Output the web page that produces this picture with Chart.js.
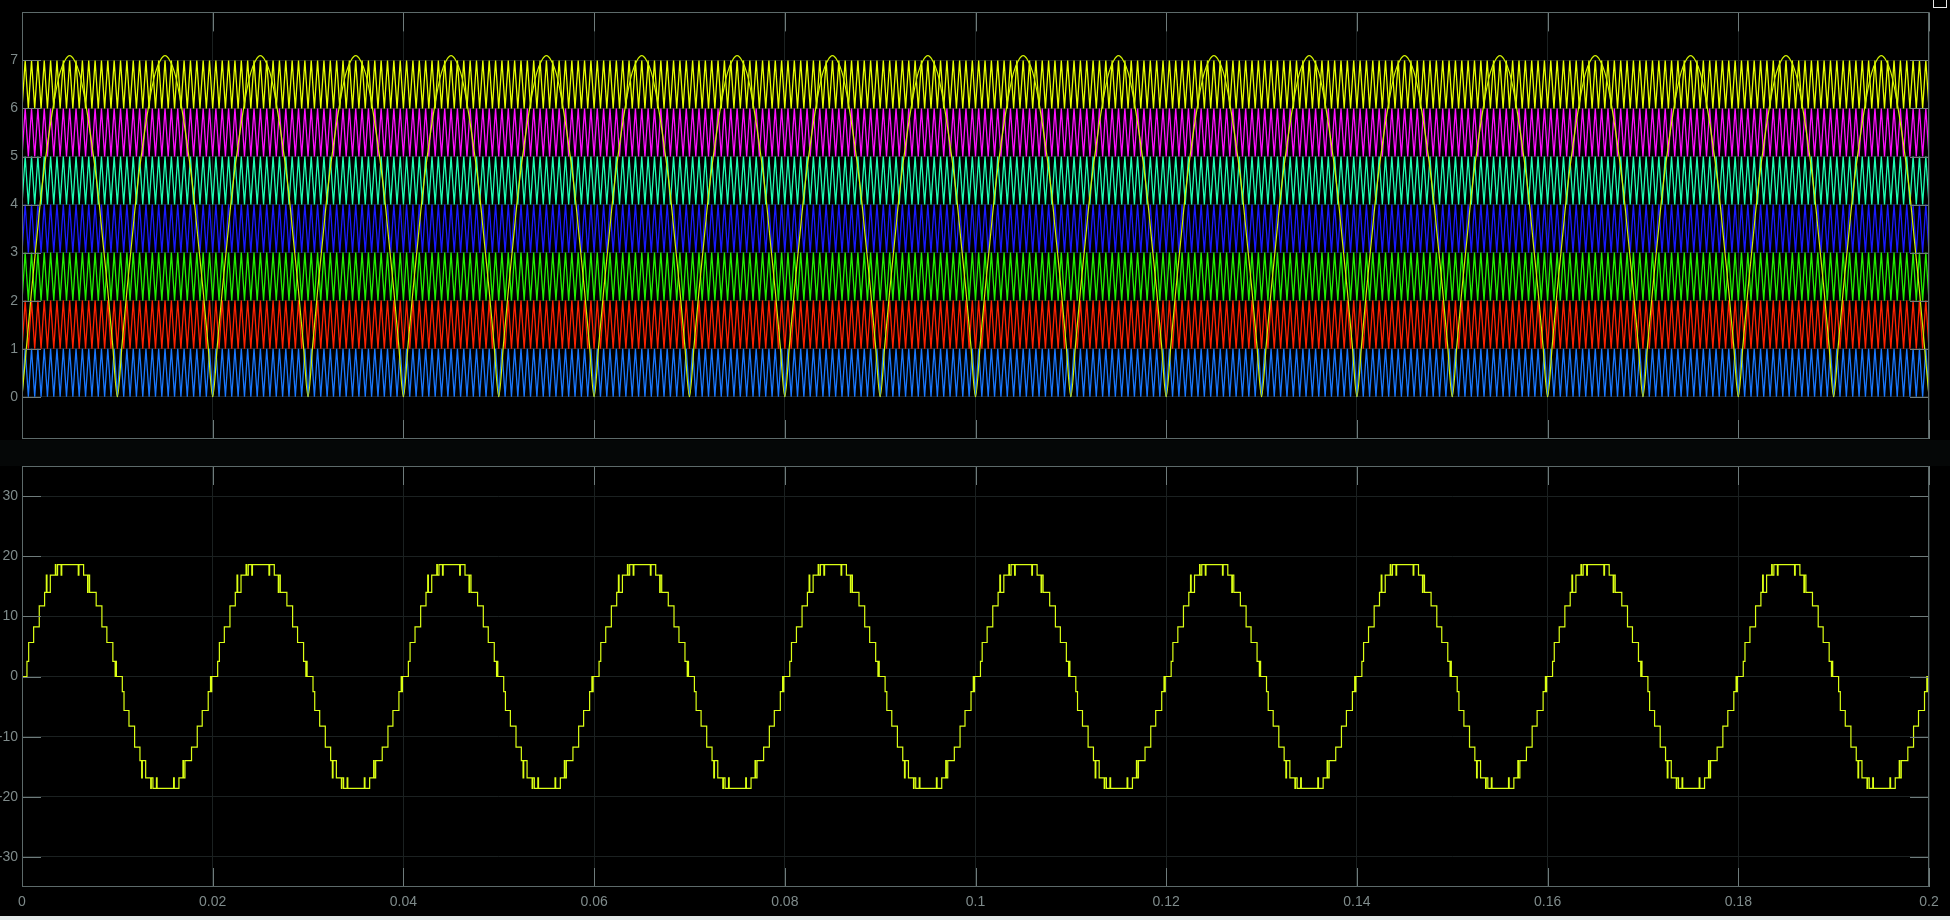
<!DOCTYPE html>
<html>
<head>
<meta charset="utf-8">
<title>Scope</title>
<script src="https://cdn.jsdelivr.net/npm/chart.js"></script>
<style>
  html, body { margin: 0; padding: 0; background: #000; overflow: hidden; }
  body { width: 1950px; height: 920px; position: relative; }
  canvas { position: absolute; left: 0; }
  #carriers { top: 0; }
  #output { top: 440px; }
  .gap { position: absolute; left: 0; top: 440px; width: 1950px; height: 26px; background: #050707; }
  .footer { position: absolute; left: 0; top: 916px; width: 1950px; height: 4px; background: #e4eaea; }
  .undock { position: absolute; left: 1933px; top: -2px; width: 12px; height: 8px; border: 1px solid #e8e8e8; }
</style>
</head>
<body>
<div class="gap"></div>
<canvas id="carriers" width="1950" height="460"></canvas>
<canvas id="output" width="1950" height="476"></canvas>
<div class="footer"></div>
<div class="undock"></div>
<script>
// time axis (s)
const duration = 0.2;
const xTicks = [0, 0.02, 0.04, 0.06, 0.08, 0.1, 0.12, 0.14, 0.16, 0.18, 0.2];
const xTickLabels = ["0", "0.02", "0.04", "0.06", "0.08", "0.1", "0.12", "0.14", "0.16", "0.18", "0.2"];

// top scope: level-shifted carriers + rectified reference
const carrierTicks = [0, 1, 2, 3, 4, 5, 6, 7];
const carrierBands = [[0, 1], [1, 2], [2, 3], [3, 4], [4, 5], [5, 6], [6, 7]];
const carrierColors = ["#1a78ff", "#ff2200", "#22f000", "#1a1aff", "#1effb4", "#ff10ff", "#e8ff00"];
const carrierHz = 1500; // about 6.3 px between spikes

// one half cycle of the reference (|sin|), 0 .. 0.01 s
const refPeriod = 0.01;
const refTimes = [0, 0.0005, 0.001, 0.0015, 0.002, 0.0025, 0.003, 0.0035, 0.004, 0.0045, 0.005,
  0.0055, 0.006, 0.0065, 0.007, 0.0075, 0.008, 0.0085, 0.009, 0.0095, 0.01];
const refValues = [0, 1.1, 2.2, 3.2, 4.2, 5.0, 5.7, 6.3, 6.75, 7.0, 7.1,
  7.0, 6.75, 6.3, 5.7, 5.0, 4.2, 3.2, 2.2, 1.1, 0];

// bottom scope: 15-level output, positive half cycle (negative half mirrors it)
const outputPeriod = 0.02;
const outputTicks = [-30, -20, -10, 0, 10, 20, 30];
const stepTimes = [0.00052, 0.0007, 0.00122, 0.00181, 0.00237, 0.00255, 0.00262, 0.00297,
  0.0035, 0.00356, 0.00373, 0.0041, 0.00417, 0.0059, 0.00597, 0.00646,
  0.00688, 0.00694, 0.00709, 0.00778, 0.00838, 0.0089, 0.00953, 0.00977, 0.00985, 0.0099];
const stepLevels = [2.5, 5.65, 8.25, 11.75, 14.0, 16.85, 14.0, 16.85,
  18.6, 16.85, 18.6, 16.85, 18.6, 16.85, 18.6, 16.85,
  14.0, 16.85, 14.0, 11.75, 8.25, 5.65, 2.5, 0, 2.5, 0];

const axisText = "#7f8b8b";
const gridColor = "#1b2121";

const carrierPoints = ([lo, hi]) => {
  const pts = [];
  const halves = Math.round(duration * carrierHz * 2);
  for (let k = 0; k <= halves; k++) {
    pts.push({ x: k / (carrierHz * 2), y: k % 2 ? hi : lo });
  }
  return pts;
};

const refPoints = [];
for (let p = 0; p < Math.round(duration / refPeriod); p++) {
  refTimes.forEach((t, i) => {
    if (p > 0 && i === 0) return;
    refPoints.push({ x: p * refPeriod + t, y: refValues[i] });
  });
}

const outPoints = [{ x: 0, y: 0 }];
for (let p = 0; p < Math.round(duration / outputPeriod); p++) {
  [1, -1].forEach((sign, h) => {
    stepTimes.forEach((t, i) => {
      outPoints.push({ x: p * outputPeriod + h * outputPeriod / 2 + t, y: sign * stepLevels[i] });
    });
  });
}
outPoints.push({ x: duration, y: 0 });

// black plot area, inner tick marks and frame like the scope window
const scopeFrame = {
  id: "scopeFrame",
  beforeDraw(chart) {
    const { ctx, chartArea: a } = chart;
    ctx.save();
    ctx.fillStyle = "#000";
    ctx.fillRect(a.left, a.top, a.right - a.left, a.bottom - a.top);
    ctx.restore();
  },
  afterDatasetsDraw(chart) {
    const { ctx, chartArea: a, scales } = chart;
    ctx.save();
    ctx.lineWidth = 1;
    ctx.strokeStyle = "#6e7b7b";
    ctx.beginPath();
    scales.y.ticks.forEach((t) => {
      const py = Math.round(scales.y.getPixelForValue(t.value)) + 0.5;
      ctx.moveTo(a.left, py); ctx.lineTo(a.left + 19, py);
      ctx.moveTo(a.right - 19, py); ctx.lineTo(a.right, py);
    });
    scales.x.ticks.forEach((t) => {
      const px = Math.round(scales.x.getPixelForValue(t.value)) + 0.5;
      ctx.moveTo(px, a.top); ctx.lineTo(px, a.top + 19);
      ctx.moveTo(px, a.bottom - 19); ctx.lineTo(px, a.bottom);
    });
    ctx.stroke();
    ctx.strokeStyle = "#5d6a6a";
    ctx.strokeRect(Math.round(a.left) + 0.5, Math.round(a.top) + 0.5,
      Math.round(a.right - a.left) - 1, Math.round(a.bottom - a.top) - 1);
    ctx.restore();
  },
};

const xAxis = (showLabels, height) => ({
  type: "linear",
  min: 0,
  max: duration,
  afterBuildTicks: (s) => { s.ticks = xTicks.map((v) => ({ value: v })); },
  afterFit: (s) => { s.height = height; },
  border: { display: false },
  grid: { color: gridColor, drawTicks: false },
  ticks: {
    display: showLabels,
    autoSkip: false,
    maxRotation: 0,
    padding: 7,
    color: axisText,
    font: { family: "Liberation Sans", size: 14 },
    callback: (v, i) => xTickLabels[i],
  },
});

const yAxis = (min, max, ticks) => ({
  min: min,
  max: max,
  afterBuildTicks: (s) => { s.ticks = ticks.map((v) => ({ value: v })); },
  afterFit: (s) => { s.width = 22; },
  border: { display: false },
  grid: { color: gridColor, drawTicks: false },
  ticks: {
    padding: 4,
    color: axisText,
    font: { family: "Liberation Sans", size: 14 },
  },
});

const commonOptions = {
  responsive: false,
  animation: false,
  events: [],
  parsing: false,
  normalized: true,
  plugins: { legend: { display: false }, tooltip: { enabled: false } },
  elements: { point: { radius: 0 } },
};

new Chart(document.getElementById("carriers"), {
  type: "line",
  data: {
    datasets: [
      { label: "reference", data: refPoints, borderColor: "#d2f200", borderWidth: 1.2, cubicInterpolationMode: "monotone" },
      ...carrierBands.map((band, i) => ({
        label: "carrier " + (i + 1),
        data: carrierPoints(band),
        borderColor: carrierColors[i],
        borderWidth: 1.3,
      })),
    ],
  },
  options: {
    ...commonOptions,
    layout: { autoPadding: false, padding: { top: 5, right: 21, left: 0, bottom: 0 } },
    scales: {
      x: xAxis(false, 21),
      y: yAxis(-0.88, 8, carrierTicks),
    },
  },
  plugins: [scopeFrame],
});

new Chart(document.getElementById("output"), {
  type: "line",
  data: {
    datasets: [
      { label: "output", data: outPoints, borderColor: "#dcff14", borderWidth: 1.2, stepped: "before" },
    ],
  },
  options: {
    ...commonOptions,
    layout: { autoPadding: false, padding: { top: 26, right: 21, left: 0, bottom: 0 } },
    scales: {
      x: xAxis(true, 29),
      y: yAxis(-35, 35, outputTicks),
    },
  },
  plugins: [scopeFrame],
});
</script>
</body>
</html>
